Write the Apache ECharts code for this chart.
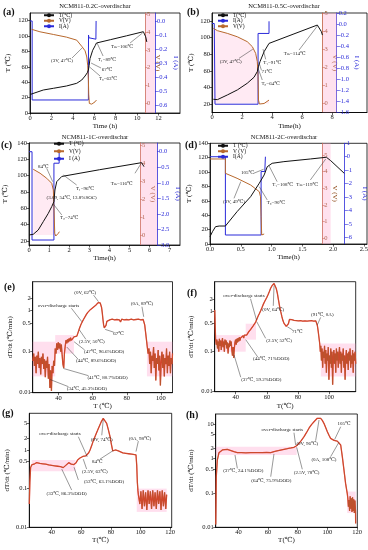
<!DOCTYPE html>
<html><head><meta charset="utf-8">
<script src="https://cdn.jsdelivr.net/npm/echarts@6/dist/echarts.min.js"></script>
<style>html,body{margin:0;padding:0;background:#fff}#c{width:368px;height:550px}</style>
</head><body><div id="c"></div>
<script>
const FONT = "'Liberation Serif','DejaVu Serif','Noto Sans CJK SC',serif";
const BLUE = '#2b2bd9', BROWN = '#b8692e', VAX = '#b5542a', RED = '#ea3a2e', DARK = '#a5602e';

// ---------------- panel (a) 0.2C ----------------
const aTemp = [[0,24],[0.1,25.6],[1.24,29.9],[2.18,32.1],[3.4,35.1],[4.36,38.6],[4.83,42.9],[5.14,48.1],[5.35,52.4],[5.45,55.9],[5.52,62],[5.6,70.7],[5.85,81.5],[6.1,88],[6.2,91],[7.5,95.3],[9,100.3],[10.58,105.7],[10.8,99],[10.9,92.4]];
const aVolt = [[0.15,4.16],[0.93,4.02],[2.18,3.87],[3.4,3.72],[4.36,3.55],[4.83,3.2],[5.14,2.95],[5.3,2.6],[5.39,2.1],[5.45,1.3],[5.48,0.5],[5.54,-0.02],[5.76,-0.06],[6.07,0.07],[6.2,0.17]];
const aCurr = [[0,0],[0.2,0],[0.2,-0.564],[5.45,-0.564],[5.46,-0.1],[5.5,-0.12],[5.55,-0.13],[6.15,-0.13],[6.17,0.0]];
const aNotes = [
 ['(3V, 47℃)',2.99,67.6,3.92,71.5,4.86,84.5],
 ['T₁=89℃',7.19,68.9,6.82,74.1,6.26,91],
 ['67℃',7.19,55.9,6.63,58.5,5.7,65],
 ['T₀=63℃',7.28,44.2,6.54,48.1,5.56,59.8],
 ['Tₘ=106℃',8.59,85.8,9.34,91,10.5,104]];

// ---------------- panel (b) 0.5C ----------------
const bTemp = [[0.09,25.7],[0.36,25.3],[1.02,30.9],[1.69,37],[2.35,45],[2.8,52.2],[3.02,59.1],[3.09,64.9],[3.2,71],[3.47,83],[3.8,93],[5.4,104],[7.02,115.1],[7.29,107.1],[7.36,103]];
const bVolt = [[0.09,4.17],[0.36,4.04],[1.02,3.89],[1.69,3.7],[2.35,3.43],[2.69,3.15],[2.91,2.78],[3.02,2.32],[3.07,1.49],[3.1,0.19],[3.16,-0.03],[3.47,0.0],[3.8,0.19]];
const bCurr = [[0,0.01],[0.15,0.01],[0.2,-1.45],[3.07,-1.45],[3.07,-0.17],[3.8,-0.17],[3.8,0.05]];
const bNotes = [
 ['(3V, 47℃)',1.25,71,1.8,75,2.72,86],
 ['T₁=91℃',4.02,69.8,3.58,73.8,3.4,86],
 ['71℃',3.65,58.9,3.29,61,3.13,69.8],
 ['T₀=64℃',3.91,45,3.35,48.9,3.07,63],
 ['Tₘ=114℃',5.51,81.1,5.8,85,7.02,113.9]];

// ---------------- panel (c) 1C ----------------
const cTemp = [[0.01,27.3],[0.21,28.1],[0.46,33.4],[0.71,43.6],[0.96,53.8],[1.13,62],[1.24,68.1],[1.29,82.4],[1.38,92.6],[1.63,99],[3.5,107.2],[5.6,115.9],[5.72,111]];
const cVolt = [[0.21,3.65],[0.55,3.43],[0.88,3.15],[1.13,2.87],[1.21,2.5],[1.24,1.57],[1.28,0.09],[1.33,-0.06],[1.46,0.09],[1.51,0.18]];
const cCurr = [[0,0],[0.15,0],[0.15,-2.84],[1.24,-2.84],[1.24,-0.37],[1.5,-0.37],[1.5,0]];
const cNotes = [
 ['84℃',0.71,111,0.88,109,1.18,92.6],
 ['T₁=96℃',2.79,84.5,2.37,88.5,1.71,100.8],
 ['(3.09, 54℃, 13.8%SOC)',2.12,73.4],
 ['T₀=74℃',2.0,49,1.63,51.8,1.21,65.2],
 ['Tₘ=116℃',4.61,90.6,5.27,102.9,5.56,114.3]];

// ---------------- panel (d) 2C ----------------
const dTemp = [[0,10.2],[0.04,17.1],[0.09,24.1],[0.15,25],[0.25,25],[0.44,45],[0.66,65.8],[0.8,84.4],[0.88,96],[0.93,107.5],[1.01,112.2],[1.2,114.5],[1.63,118.2],[1.89,120.6],[1.96,115.9],[2.18,98.3]];
const dVolt = [[0,4.76],[0.25,4.76],[0.25,3.9],[0.44,3.6],[0.66,3.2],[0.8,2.8],[0.82,2.5],[0.83,1.3],[0.84,0.2],[0.85,0.14],[0.88,0.26]];
const dCurr = [[0,0],[0.25,0],[0.25,-5.83],[0.83,-5.83],[0.83,-1.1],[0.89,-1.1],[0.9,0]];
const dNotes = [
 ['105℃',0.61,99.2,0.71,98.3,0.87,103.9],
 ['T₁=108℃',1.18,82,1.09,86.7,0.96,108.5],
 ['(3V, 49℃)',0.39,58.8,0.39,63.5,0.5,86.7],
 ['T₀=90℃',1.07,57.5,0.93,61.2,0.8,79.7],
 ['Tₘ=119℃',1.58,82,1.63,89,1.88,118.2]];

// ---------------- panel (e) dT/dt 0.2C ----------------
const eRate = [[24.9,0.06],[25.4,0.09],[25.8,0.045],[26.3,0.075],[26.8,0.03],[27.2,0.08],[27.7,0.05],[28.1,0.1],[28.6,0.04],[29.0,0.07],[29.5,0.028],[29.9,0.075],[30.4,0.05],[30.8,0.09],[31.3,0.038],[31.7,0.065],[32.2,0.024],[32.6,0.06],[33.1,0.04],[33.5,0.075],[34.0,0.022],[34.4,0.05],[34.9,0.013],[35.3,0.035],[35.8,0.011],[36.2,0.045],[36.7,0.03],[37.1,0.06],[37.6,0.045],[38.0,0.12],[38.5,0.09],[38.9,0.16],[39.4,0.11],[39.8,0.17],[40.3,0.12],[40.7,0.16],[41.2,0.1],[41.6,0.15],[42.1,0.08],[42.5,0.05],[43.0,0.04],[43.4,0.09],[43.9,0.14],[44.3,0.19],[44.8,0.16],[45.2,0.2],[45.7,0.17],[46.1,0.21],[46.6,0.18],[47.0,0.22],[47.5,0.19],[48.0,0.21],[48.5,0.2],[49.0,0.23],[49.5,0.21],[50.0,0.22],[50.7,0.24],[51.5,0.3],[52.3,0.38],[53.1,0.46],[53.9,0.54],[54.6,0.6],[55.4,0.7],[56.2,0.8],[57.0,0.9],[57.8,0.98],[58.6,1.06],[59.4,1.13],[60.2,1.2],[61.0,1.28],[61.8,1.36],[62.6,1.45],[63.2,1.58],[63.6,1.5],[64.0,1.68],[64.4,1.55],[64.8,1.42],[65.2,1.2],[65.6,0.9],[66.0,0.62],[66.4,0.45],[66.8,0.38],[67.3,0.34],[67.8,0.44],[68.3,0.55],[68.8,0.6],[69.3,0.57],[70,0.6],[70.7,0.55],[71.4,0.62],[72.1,0.57],[72.8,0.6],[73.5,0.54],[74.2,0.61],[74.9,0.56],[75.6,0.6],[76.3,0.53],[77,0.62],[77.7,0.57],[78.4,0.6],[79.1,0.55],[79.8,0.61],[80.5,0.56],[81.2,0.6],[81.9,0.54],[82.6,0.62],[83.3,0.57],[84,0.6],[84.7,0.55],[85.4,0.61],[86.1,0.57],[86.8,0.62],[87.5,0.56],[88.2,0.6],[88.9,0.57],[89.6,0.61],[90.0,0.58],[90.5,0.45],[91.0,0.3],[91.5,0.2],[92.0,0.13],[92.5,0.09],[93.0,0.12],[93.4,0.05],[93.9,0.1],[94.3,0.03],[94.8,0.08],[95.2,0.06],[95.7,0.13],[96.1,0.04],[96.6,0.09],[97.0,0.02],[97.5,0.07],[97.9,0.05],[98.4,0.11],[98.8,0.035],[99.3,0.08],[99.7,0.015],[100.2,0.06],[100.6,0.1],[101.1,0.04],[101.5,0.085],[102,0.025],[102.4,0.07],[102.9,0.05],[103.3,0.12],[103.8,0.03],[104.2,0.08],[104.7,0.045],[105.1,0.1],[105.6,0.03],[106,0.07],[106.5,0.05],[106.8,0.09]];
const eNotes = [
 ['(0V, 62℃)',55.6,2.75,60.5,2.4,63.4,1.66],
 ['over-discharge starts',39.9,1.3,47.5,1.15,53.6,0.54],
 ['(0A, 89℃)',88.9,1.46,88.9,1.25,89.9,0.71],
 ['67℃',75.2,0.28,72.3,0.3,67.3,0.35],
 ['(2.5V, 50℃)',59.5,0.175,56,0.2,52.2,0.34],
 ['(47℃, 96.6%DOD)',66.7,0.1,55.3,0.11,49.1,0.175],
 ['(44℃, 89.6%DOD)',62,0.06,51.5,0.065,44.8,0.13],
 ['(41℃, 80.7%DOD)',68.7,0.023,57.5,0.026,42.8,0.039],
 ['(34℃, 45.3%DOD)',56.6,0.0128,45.8,0.014,35,0.021]];
const ePink = [[24.8,0.025,38,0.175],[38,0.09,49,0.255],[91.8,0.025,106.8,0.175]];

// ---------------- panel (f) dT/dt 0.5C ----------------
const fRate = [[26.5,1.1],[26.8,0.45],[27.1,0.2],[27.5,0.15],[27.9,0.2],[28.3,0.12],[28.7,0.18],[29.1,0.1],[29.5,0.21],[29.9,0.14],[30.3,0.19],[30.7,0.11],[31.1,0.17],[31.5,0.22],[31.9,0.13],[32.3,0.18],[32.7,0.1],[33.1,0.2],[33.5,0.15],[33.9,0.19],[34.3,0.12],[34.7,0.17],[35.1,0.09],[35.5,0.16],[35.9,0.13],[36.3,0.19],[36.7,0.14],[37.1,0.18],[37.5,0.11],[37.9,0.08],[38.3,0.13],[38.7,0.07],[39.1,0.12],[39.5,0.17],[39.9,0.2],[40.3,0.15],[40.7,0.21],[41.1,0.17],[41.5,0.22],[41.9,0.18],[42.3,0.23],[42.7,0.19],[43.1,0.22],[43.5,0.2],[43.9,0.24],[44.3,0.21],[44.7,0.25],[45.1,0.22],[45.5,0.26],[46,0.24],[46.5,0.27],[47,0.26],[47.6,0.29],[48.2,0.31],[48.8,0.33],[49.6,0.36],[50.4,0.4],[51.2,0.44],[52,0.49],[52.8,0.55],[53.6,0.66],[54.4,0.78],[55.2,0.9],[56,1.05],[56.8,1.25],[57.6,1.5],[58.4,1.75],[59.2,1.96],[60,2.3],[60.8,2.7],[61.6,3.2],[62.4,3.85],[63.2,4.4],[63.9,4.9],[64.6,5.1],[65.3,4.7],[66,3.8],[66.7,2.9],[67.4,2.0],[68.1,1.4],[68.9,1.0],[69.6,0.76],[70.3,0.6],[71,0.51],[71.7,0.46],[72.4,0.43],[73.1,0.42],[73.8,0.5],[74.5,0.64],[75.3,0.7],[76,0.63],[76.7,0.58],[77.4,0.61],[78.1,0.56],[78.8,0.6],[79.5,0.55],[80.2,0.59],[80.9,0.54],[81.6,0.6],[82.3,0.55],[83,0.58],[83.7,0.53],[84.4,0.59],[85.1,0.54],[85.8,0.58],[86.5,0.53],[87.2,0.59],[87.9,0.55],[88.6,0.6],[89.3,0.54],[90,0.58],[90.7,0.55],[91.4,0.59],[92,0.54],[92.4,0.45],[92.9,0.33],[93.4,0.23],[93.9,0.16],[94.3,0.1],[94.6,0.14],[95,0.06],[95.4,0.12],[95.8,0.04],[96.2,0.1],[96.6,0.07],[97,0.14],[97.4,0.05],[97.8,0.11],[98.2,0.03],[98.6,0.09],[99,0.06],[99.4,0.13],[99.8,0.02],[100.2,0.08],[100.6,0.05],[101,0.12],[101.4,0.04],[101.8,0.1],[102.2,0.015],[102.6,0.07],[103,0.11],[103.4,0.05],[103.8,0.09],[104.2,0.03],[104.6,0.12],[105,0.06],[105.4,0.1],[105.8,0.04],[106.2,0.08],[106.6,0.13],[107,0.05],[107.4,0.1],[107.8,0.03],[108.2,0.09],[108.6,0.06],[109,0.12],[109.4,0.04],[109.8,0.08],[110.2,0.02],[110.6,0.07],[111,0.11],[111.4,0.05],[111.8,0.09],[112.2,0.035],[112.6,0.1],[113,0.06],[113.4,0.12],[113.8,0.04],[114.2,0.08],[114.6,0.05],[115,0.11],[115.4,0.03],[115.8,0.09],[116.2,0.06],[116.6,0.1],[117,0.05]];
const fNotes = [
 ['over-discharge starts',45.3,2.46,49.5,2.1,53.3,0.62],
 ['(0V, 64℃)',64.1,1.15,64.1,1.4,64.6,4.5],
 ['71℃',79.5,0.316,76.5,0.35,73.1,0.42],
 ['(91℃, 0A)',95.6,0.86,94.5,0.72,92.4,0.47],
 ['(2.5V, 52℃)',67.8,0.185,59.2,0.216,53.5,0.56],
 ['(44℃, 71%DOD)',62.8,0.065,54.3,0.072,46.4,0.2],
 ['(37℃, 59.2%DOD)',56.4,0.0204,43.2,0.023,38.9,0.083]];
const fPink = [[27.5,0.1,46.4,0.26],[46.4,0.2,53,0.5],[94.6,0.024,117,0.16]];

// ---------------- panel (g) dT/dt 1C ----------------
const gRate = [[24.9,0.04],[25.3,0.15],[25.8,0.35],[26.5,0.41],[27.6,0.46],[28.5,0.44],[29.9,0.47],[31,0.43],[32,0.45],[33,0.42],[34,0.44],[35,0.4],[36,0.43],[37,0.39],[38,0.41],[38.9,0.39],[40,0.4],[41,0.37],[42,0.39],[43,0.36],[44,0.38],[45,0.35],[46,0.37],[47,0.34],[47.8,0.35],[48.5,0.37],[49.5,0.4],[50.5,0.44],[51.5,0.47],[52.4,0.46],[53.2,0.43],[54,0.4],[55,0.42],[55.7,0.41],[56.5,0.47],[57.5,0.55],[58.3,0.6],[59.1,0.62],[60,0.65],[61,0.68],[62,0.69],[63,0.7],[64,0.72],[65,0.85],[65.9,1.0],[67,1.3],[68,1.7],[69.2,2.2],[70.3,2.8],[71.5,3.6],[72.6,4.5],[73.7,5.6],[74.8,6.6],[76,6.0],[77.1,4.9],[78.2,3.4],[79.4,2.2],[80.3,1.4],[81.2,0.95],[82,0.93],[83,1.0],[83.9,1.05],[85,0.95],[86.1,0.86],[88,0.84],[90,0.82],[92,0.8],[94,0.78],[95.1,0.77],[96.9,0.75],[97.4,0.4],[97.8,0.15],[98.2,0.09],[98.5,0.07],[99.5,0.04],[100.2,0.085],[101,0.03],[101.8,0.09],[102.6,0.035],[103.4,0.08],[104.2,0.028],[105,0.09],[105.8,0.04],[106.6,0.085],[107.4,0.03],[108.2,0.09],[109,0.035],[109.8,0.08],[110.6,0.03],[111.4,0.09],[112.2,0.04],[113,0.085],[113.8,0.028],[114.6,0.09],[115.4,0.035],[116.2,0.08],[117,0.03],[117.6,0.07]];
const gNotes = [
 ['over-discharge starts',45.6,2.72,58,2.2,64,0.67],
 ['(0V, 74℃)',73.8,1.83,73.8,2.4,74.8,6.0],
 ['(0A, 98℃)',99.6,2.02,98.5,1.7,96.9,0.91],
 ['84℃',70.8,0.5,72.6,0.58,81.6,0.97],
 ['(2.5V, 63℃)',69.2,0.276,63.6,0.32,61.3,0.58],
 ['(53℃, 63.1%DOD)',75.3,0.152,58,0.168,55.1,0.358],
 ['(33℃, 86.3%DOD)',50.1,0.076,53.5,0.092,46.8,0.32]];
const gPink = [[26.5,0.28,56,0.55],[97.4,0.025,117.6,0.1]];

// ---------------- panel (h) dT/dt 2C ----------------
const hRate = [[24.7,0.012],[25.1,0.3],[25.8,0.91],[26.9,1.49],[28,1.7],[29.2,1.79],[30.5,1.85],[32.5,1.87],[34.5,1.75],[37,1.6],[39.3,1.49],[42,1.5],[45,1.48],[48.3,1.49],[52,1.5],[56,1.49],[59,1.51],[61.8,1.49],[64,1.6],[66,1.68],[68.5,1.78],[70.8,1.87],[73,1.95],[75.5,2.05],[77.5,2.14],[79,2.34],[80.9,2.8],[82.5,3.4],[84.3,4.37],[86,5.8],[87.6,7.7],[89.3,9.8],[91,11.9],[93.2,15],[94.4,15.3],[95.5,15],[96.6,13],[97.7,10.7],[98.8,8.2],[100,6.1],[101.1,4.8],[102.2,3.9],[103.3,3.5],[104.5,3.4],[105.6,3.34],[106.7,3.25],[107.8,3.12],[109,2.5],[110.1,1.14],[111.2,0.47],[112.3,0.19],[113.4,0.098],[113.8,0.07],[114.2,0.04],[114.6,0.062],[115,0.03],[115.4,0.08],[115.8,0.035],[116.2,0.07],[116.6,0.028],[117,0.075],[117.4,0.03],[117.8,0.065],[118.2,0.026],[118.6,0.06],[119,0.03],[119.1,0.013]];
const hNotes = [
 ['over-discharge starts',69.6,7.2,77.5,5.7,78.6,2.5],
 ['(0V, 96℃)',86.5,2.8,92.1,3.34,94.4,13.4],
 ['105℃',111.2,10.2,109,8.5,104.9,3.6],
 ['(0A, 108℃)',97.7,0.91,102.2,1.14,107.8,3.0],
 ['(37℃, 24.1%DOD)',43.3,0.446,39.3,0.52,37.7,1.28],
 ['(64℃, 75.9%DOD)',62.2,0.228,61.8,0.298,64,1.37],
 ['(2.5V, 78℃)',86,0.39,83.1,0.49,79.3,2.14]];
const hPink = [[24.7,1.28,79.3,2.23],[113.4,0.026,119.1,0.11]];

// ---------------- tick labels ----------------
const aTimeTicks = [0,2,4,6,8,10,12], bTimeTicks = [0,2,4,6,8], cTimeTicks = [0,1,2,3,4,5,6,7], dTimeTicks = [0,0.5,1,1.5,2,2.5];
const aTTicks = [0,20,40,60,80,100,120], bTTicks = [20,40,60,80,100,120], cTTicks = [20,40,60,80,100,120,140], dTTicks = [0,20,40,60,80,100,120,140];
const vTicks = [0,1,2,3,4,5];
const aITicks = [0,-0.1,-0.2,-0.3,-0.4,-0.5,-0.6], bITicks = [0.2,0,-0.2,-0.4,-0.6,-0.8,-1,-1.2,-1.4,-1.6], cITicks = [0,-0.5,-1,-1.5,-2,-2.5,-3], dITicks = [1,0,-1,-2,-3,-4,-5,-6];
const efTempTicks = [40,60,80,100], ghTempTicks = [40,60,80,100,120];
const efRateTicks = [0.01,0.1,0.5,1,2], gRateTicks = [0.01,0.1,0.5,1,2,5], hRateTicks = [0.01,0.1,0.5,1,2,5,10];

const LBL = {aT:'T(℃)',aV:'V(V)',aI:'I(A)',bT:'T(℃)',bI:'I(A)',bV:'V(V)',cT:'T (℃)',cV:'V(V)',cI:'I (A)',dT:'T (℃)',dV:'V (V)',dI:'I(A)'};

function axis(o){
  const col = o.color || '#000';
  return {
    type:o.type||'value', gridIndex:o.grid, position:o.position, offset:o.offset||0,
    min:o.min, max:o.max, logBase:10,
    name:o.name, nameLocation:'middle', nameGap:o.nameGap, nameRotate:o.nameRotate,
    nameTextStyle:{fontSize:7, fontFamily:FONT, color:o.labelColor||'#111'},
    axisLine:{show:true, onZero:false, lineStyle:{color:col, width:0.8}},
    axisTick:{show:true, length:2.5, customValues:o.ticks, lineStyle:{color:col, width:0.6}},
    axisLabel:{fontSize:6.5, fontFamily:FONT, color:o.labelColor||'#111', margin:2, customValues:o.ticks, formatter:o.fmt},
    splitLine:{show:false}
  };
}
function notesMarks(notes){
  const mp = [], ml = [];
  notes.forEach(n=>{
    mp.push({coord:[n[1],n[2]], symbol:'circle', symbolSize:0,
      label:{show:true, position:'inside', formatter:n[0], fontSize:5, fontFamily:FONT, color:'#222'}});
    if (n.length>3) ml.push([{coord:[n[3],n[4]]},{coord:[n[5],n[6]]}]);
  });
  return {
    markPoint:{silent:true, itemStyle:{color:'rgba(0,0,0,0)'}, data:mp},
    markLine:{silent:true, symbol:['none','arrow'], symbolSize:[0,3.5], label:{show:false},
      lineStyle:{color:'#333', width:0.5, type:'solid'}, data:ml}
  };
}
function mkLine(name, xi, yi, data, color, width, extra){
  return Object.assign({name, type:'line', xAxisIndex:xi, yAxisIndex:yi, data, symbol:'none', showSymbol:false,
    lineStyle:{color, width}, itemStyle:{color}, emphasis:{disabled:true}}, extra||{});
}

const gridList = [
  {left:30, top:13, width:150, height:100},
  {left:212, top:13, width:155, height:99.5},
  {left:29, top:143, width:151, height:102},
  {left:210, top:143.3, width:157, height:100.7},
  {left:32.7, top:281.7, width:139.8, height:111},
  {left:214.7, top:281.7, width:141, height:110},
  {left:29.3, top:413.3, width:142.4, height:114},
  {left:215.7, top:414, width:141.6, height:113.3}
].map(g=>Object.assign({show:true, borderColor:'#000', borderWidth:0.8, containLabel:false, outerBoundsMode:'none'}, g));

const fix1 = v=>Number(v).toFixed(1);
const logFmt = v=>String(+Number(v).toPrecision(2));

const topCfg = [
  {p:'a', T:aTemp, V:aVolt, I:aCurr, notes:aNotes, xMax:14, xT:aTimeTicks, xName:'Time (h)', xGap:10, tMin:0, tMax:130, tT:aTTicks, tGap:18.5,
   vMin:-0.56, vMax:5.08, vOff:-35, iMin:-0.657, iMax:0.057, iOff:-25, iT:aITicks, iFmt:fix1, strip:[10.74,11.67], area:false, legend:['aT','aV','aI'], lg:{left:43, top:12.5, itemGap:0}},
  {p:'b', T:bTemp, V:bVolt, I:bCurr, notes:bNotes, xMax:10.33, xT:bTimeTicks, xName:'Time(h)', xGap:10, tMin:9.8, tMax:129.6, tT:bTTicks, tGap:17.5,
   vMin:-0.5, vMax:5.02, vOff:-44.5, iMin:-1.6, iMax:0.2, iOff:-30.3, iT:bITicks, iFmt:fix1, strip:[7.37,8.31], area:true, legend:['bT','bI','bV'], lg:{left:217, top:12.5, itemGap:0}},
  {p:'c', T:cTemp, V:cVolt, I:cCurr, notes:cNotes, xMax:7.51, xT:cTimeTicks, xName:'Time(h)', xGap:9, tMin:15, tMax:140, tT:cTTicks, tGap:20.5,
   vMin:-0.56, vMax:5.11, vOff:-40, iMin:-3.0, iMax:0.28, iOff:-23, iT:cITicks, iFmt:fix1, strip:[5.52,6.37], area:true, legend:['cT','cV','cI'], lg:{left:53, top:141, itemGap:2}},
  {p:'d', T:dTemp, V:dVolt, I:dCurr, notes:dNotes, xMax:2.55, xT:dTimeTicks, xName:'Time(h)', xGap:9, xFmt:fix1, tMin:0, tMax:140, tT:dTTicks, tGap:17.5,
   vMin:-0.34, vMax:5.7, vOff:-44.7, iMin:-6.5, iMax:1.0, iOff:-22.3, iT:dITicks, iFmt:v=>String(Math.round(v)), strip:[1.82,1.96], area:false, legend:['dT','dV','dI'], lg:{left:217, top:143, itemGap:0}}
];
const botCfg = [
  {R:eRate, notes:eNotes, pink:ePink, xMin:24.8, xMax:106.8, xT:efTempTicks, xName:'T (℃)', xGap:10, yMax:5.1, yT:efRateTicks, yGap:19},
  {R:fRate, notes:fNotes, pink:fPink, xMin:26.5, xMax:117, xT:efTempTicks, xName:'T(℃)', xGap:11, yMax:5.62, yT:efRateTicks, yGap:20.5},
  {R:gRate, notes:gNotes, pink:gPink, xMin:24.9, xMax:121, xT:ghTempTicks, xName:'T(℃)', xGap:9.5, yMax:8.9, yT:gRateTicks, yGap:19},
  {R:hRate, notes:hNotes, pink:hPink, xMin:24.7, xMax:120.2, xT:ghTempTicks, xName:'T(℃)', xGap:9.5, yMax:20, yT:hRateTicks, yGap:21.5}
];

const xAxes = [], yAxes = [], seriesList = [], legends = [];
topCfg.forEach((c,i)=>{
  xAxes.push(axis({grid:i, min:0, max:c.xMax, ticks:c.xT, name:c.xName, nameGap:c.xGap, fmt:c.xFmt}));
  const b = yAxes.length;
  yAxes.push(axis({grid:i, position:'left', min:c.tMin, max:c.tMax, ticks:c.tT, name:'T (℃)', nameGap:c.tGap}));
  yAxes.push(axis({grid:i, position:'right', offset:c.vOff, min:c.vMin, max:c.vMax, ticks:vTicks, color:VAX, labelColor:'#8b4513', name:'V (V)', nameGap:7, nameRotate:-90}));
  yAxes.push(axis({grid:i, position:'right', offset:c.iOff, min:c.iMin, max:c.iMax, ticks:c.iT, color:BLUE, labelColor:BLUE, name:'I (A)', nameGap:17, nameRotate:-90, fmt:c.iFmt}));
  seriesList.push(mkLine(c.p+'I', i, b+2, c.I, BLUE, 1));
  seriesList.push(mkLine(c.p+'V', i, b+1, c.V, BROWN, 1, c.area ? {areaStyle:{color:'rgba(255,170,205,0.35)'}} : {}));
  const m = notesMarks(c.notes);
  m.markArea = {silent:true, itemStyle:{color:'rgba(255,170,205,0.35)'}, data:[[{xAxis:c.strip[0]},{xAxis:c.strip[1]}]]};
  seriesList.push(mkLine(c.p+'T', i, b, c.T, '#111', 1, m));
  legends.push(Object.assign({data:c.legend, orient:'vertical', itemWidth:10, itemHeight:5, padding:0, selectedMode:false,
    textStyle:{fontSize:5.5, fontFamily:FONT, color:'#111'}, formatter:n=>LBL[n]}, c.lg));
});
botCfg.forEach((c,j)=>{
  const gi = 4+j;
  xAxes.push(axis({grid:gi, min:c.xMin, max:c.xMax, ticks:c.xT, name:c.xName, nameGap:c.xGap}));
  const yi = yAxes.length;
  yAxes.push(axis({grid:gi, type:'log', position:'left', min:0.01, max:c.yMax, ticks:c.yT, name:'dT/dt (℃/min)', nameGap:c.yGap, fmt:logFmt}));
  seriesList.push(mkLine('r'+j, gi, yi, c.R, RED, 1.3, {markArea:{silent:true, itemStyle:{color:'rgba(255,150,200,0.3)'},
    data:c.pink.map(p=>[{coord:[p[0],p[1]]},{coord:[p[2],p[3]]}])}}));
  seriesList.push(mkLine('k'+j, gi, yi, c.R, DARK, 0.5, notesMarks(c.notes)));
});

function txt(x,y,t,size,bold,align){
  return {type:'text', x, y, silent:true, style:{text:t, fill:'#111', font:(bold?'bold ':'')+size+'px '+FONT,
    textAlign:align||'left', align:align||'left', textVerticalAlign:'middle', verticalAlign:'middle'}};
}
const graphicList = [
  txt(3,12,'(a)',10,true), txt(187,12,'(b)',10,true), txt(1,145,'(c)',10,true), txt(185,145,'(d)',10,true),
  txt(4,287,'(e)',10,true), txt(187,293,'(f)',10,true), txt(2,413,'(g)',10,true), txt(186,415,'(h)',10,true),
  txt(95,6,'NCM811-0.2C-overdischar',6.5,false,'center'), txt(284,6,'NCM811-0.5C-overdischar',6.5,false,'center'),
  txt(95,137,'NCM811-1C-overdischar',6.5,false,'center'), txt(284,137,'NCM811-2C-overdischar',6.5,false,'center')
];

const chart = echarts.init(document.getElementById('c'), null, {width:368, height:550});
chart.setOption({animation:false, backgroundColor:'#fff', grid:gridList, xAxis:xAxes, yAxis:yAxes, legend:legends, series:seriesList, graphic:graphicList});
</script></body></html>
